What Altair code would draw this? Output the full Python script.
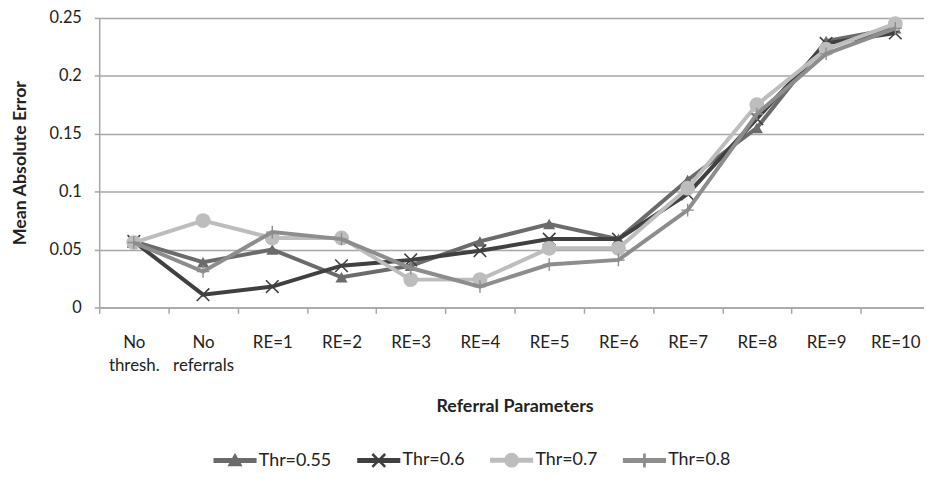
import altair as alt
import pandas as pd

categories = ["No thresh.", "No referrals", "RE=1", "RE=2", "RE=3", "RE=4",
              "RE=5", "RE=6", "RE=7", "RE=8", "RE=9", "RE=10"]
series = ["Thr=0.55", "Thr=0.6", "Thr=0.7", "Thr=0.8"]
thr_055 = [0.057, 0.039, 0.050, 0.026, 0.036, 0.057, 0.072, 0.059, 0.110, 0.155, 0.230, 0.241]
thr_06 = [0.057, 0.011, 0.018, 0.036, 0.041, 0.049, 0.059, 0.059, 0.098, 0.163, 0.228, 0.237]
thr_07 = [0.056, 0.075, 0.060, 0.060, 0.024, 0.024, 0.051, 0.051, 0.103, 0.175, 0.223, 0.245]
thr_08 = [0.056, 0.031, 0.065, 0.059, 0.034, 0.018, 0.037, 0.041, 0.084, 0.167, 0.219, 0.241]
y_ticks = [0, 0.05, 0.1, 0.15, 0.2, 0.25]

colors = ["#6b6b6b", "#404040", "#bdbdbd", "#8d8d8d"]
FONT = "Lato"

rows = []
for s, vals in zip(series, [thr_055, thr_06, thr_07, thr_08]):
    for c, v in zip(categories, vals):
        rows.append({"Parameter": c, "Series": s, "MAE": v})
df = pd.DataFrame(rows)

bar = "M-1,-0.085L1,-0.085L1,0.085L-1,0.085Z"
legend_paths = [
    bar + "M0,-0.3L0.3,0.24L-0.3,0.24Z",
    bar + "M-0.3,-0.265L0.265,0.3L0.3,0.265L-0.265,-0.3Z"
        + "M0.3,-0.265L-0.265,0.3L-0.3,0.265L0.265,-0.3Z",
    bar + "M0.32,0A0.32,0.32 0 1,1 -0.32,0A0.32,0.32 0 1,1 0.32,0Z",
    bar + "M-0.03,-0.3L0.03,-0.3L0.03,0.3L-0.03,0.3Z",
]

x_enc = alt.X(
    "Parameter:N",
    sort=categories,
    scale=alt.Scale(type="band", domain=categories, range=[0, 838],
                    paddingInner=0, paddingOuter=0),
    axis=alt.Axis(
        title="Referral Parameters",
        labelAngle=0,
        tickBand="extent",
        labelExpr="datum.label == 'No thresh.' ? ['No', 'thresh.'] : "
                  "datum.label == 'No referrals' ? ['No', 'referrals'] : datum.label",
        labelLineHeight=24,
        labelFontSize=17,
        labelFont=FONT,
        labelColor="#222222",
        labelPadding=29,
        labelBaseline="middle",
        tickSize=6,
        tickColor="#a6a6a6",
        tickWidth=1.5,
        domainColor="#a6a6a6",
        domainWidth=1.5,
        grid=False,
        titleFont=FONT,
        titleFontSize=18,
        titleFontWeight="bold",
        titleColor="#222222",
        titlePadding=24,
    ),
)
y_enc = alt.Y(
    "MAE:Q",
    scale=alt.Scale(domain=[0, 0.25], nice=False),
    axis=alt.Axis(
        title="Mean Absolute Error",
        values=y_ticks,
        format=".2~f",
        labelFontSize=16.5,
        labelFont=FONT,
        labelColor="#222222",
        labelPadding=13,
        tickSize=5,
        tickColor="#a6a6a6",
        tickWidth=1.5,
        domainColor="#a6a6a6",
        domainWidth=1.5,
        gridColor="#a6a6a6",
        gridWidth=1.5,
        titleFont=FONT,
        titleFontSize=18,
        titleFontWeight="bold",
        titleColor="#222222",
        titlePadding=20,
    ),
)

legend_cfg = dict(
    title=None,
    orient="none",
    legendX=115,
    legendY=424,
    direction="horizontal",
    columns=4,
    symbolSize=1764,
    labelFont=FONT,
    labelFontSize=18,
    labelColor="#222222",
    labelOffset=2,
    columnPadding=23,
)
color_enc = alt.Color(
    "Series:N",
    scale=alt.Scale(domain=series, range=colors),
    legend=alt.Legend(**legend_cfg),
)

base = alt.Chart(df)
markers = [
    dict(shape="triangle-up", filled=True, size=150, strokeWidth=0),
    dict(shape="M-1,-1L1,1M-1,1L1,-1", filled=False, size=160, strokeWidth=1.6),
    dict(shape="circle", filled=True, size=225, strokeWidth=0),
    dict(shape="M0,-1L0,1M-1,0L1,0", filled=False, size=160, strokeWidth=1.4),
]

layers = []
for s, m in zip(series, markers):
    sub = base.transform_filter(alt.datum.Series == s)
    layers.append(
        sub.mark_line(strokeWidth=4).encode(x=x_enc, y=y_enc, color=color_enc)
    )
    layers.append(
        sub.mark_point(opacity=1, **m).encode(x=x_enc, y=y_enc, color=color_enc)
    )

legend_layer = base.transform_filter("false").mark_point(
    filled=True, opacity=1
).encode(
    x=x_enc,
    y=y_enc,
    color=color_enc,
    shape=alt.Shape(
        "Series:N",
        scale=alt.Scale(domain=series, range=legend_paths),
        legend=alt.Legend(**legend_cfg),
    ),
)
layers.append(legend_layer)

chart = alt.layer(*layers).properties(
    width=832,
    height=292,
    autosize=alt.AutoSizeParams(type="none"),
    padding={"left": 92, "top": 8, "right": 0, "bottom": 163},
    background="white",
).configure_view(stroke=None)

chart.save("out.html", embed_options={"renderer": "svg", "actions": False})
